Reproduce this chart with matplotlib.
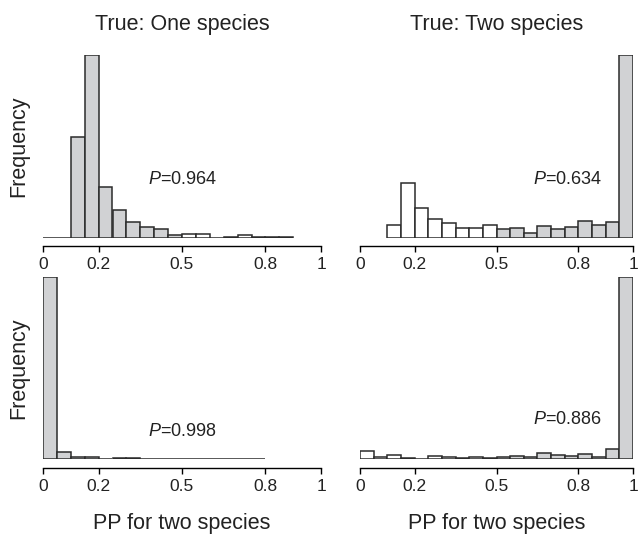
import numpy as np
import matplotlib
matplotlib.use("Agg")
import matplotlib.pyplot as plt

plt.rcParams['font.family'] = ['Liberation Sans', 'DejaVu Sans']
plt.rcParams['mathtext.fontset'] = 'custom'
plt.rcParams['mathtext.rm'] = 'Liberation Sans'
plt.rcParams['mathtext.it'] = 'Liberation Sans:italic'

# lower edges of the 0.05-wide bins of posterior probability
bin_lower = [0.00, 0.05, 0.10, 0.15, 0.20, 0.25, 0.30, 0.35, 0.40, 0.45,
             0.50, 0.55, 0.60, 0.65, 0.70, 0.75, 0.80, 0.85, 0.90, 0.95]

# counts per panel, with the index of the first bin
one_sp_top = [0, 0, 242, 440, 122, 67, 38, 26, 21, 8, 9, 10, 0, 3, 8, 2, 2, 2]
two_sp_top = [29, 121, 66, 42, 34, 22, 23, 29, 21, 23, 11, 26, 21, 25, 37, 29, 35, 406]
one_sp_bot = [920, 37, 10, 10, 4, 5, 5, 3, 1, 3, 1, 0, 0, 0, 0, 1]
two_sp_bot = [32, 11, 17, 7, 1, 15, 9, 7, 11, 4, 9, 15, 9, 24, 17, 15, 23, 11, 39, 724]
start_bin = {"one_top": 0, "two_top": 2, "one_bot": 0, "two_bot": 0}

p_labels = ["0.964", "0.634", "0.998", "0.886"]
titles = ["True: One species", "True: Two species"]
tick_vals = [0, 0.2, 0.5, 0.8, 1]
tick_labels = ["0", "0.2", "0.5", "0.8", "1"]

W, H = 640, 534
fig = plt.figure(figsize=(W / 100, H / 100), dpi=100)

# panel boxes in pixels: left, baseline, width, height
boxes = [(43, 238, 278, 183), (360, 238, 273, 183),
         (43, 459.3, 278, 182), (360, 459.3, 273, 182)]
panels = [(one_sp_top, start_bin["one_top"], "one"),
          (two_sp_top, start_bin["two_top"], "two"),
          (one_sp_bot, start_bin["one_bot"], "one"),
          (two_sp_bot, start_bin["two_bot"], "two")]
p_pos = [(0.378, 0.317), (0.633, 0.317), (0.378, 0.152), (0.633, 0.22)]

gray = "#d1d2d4"
for i, ((counts, s, truth), box) in enumerate(zip(panels, boxes)):
    l, base, w, h = box
    ax = fig.add_axes([l / W, (H - base) / H, w / W, h / H])
    lefts = bin_lower[s:s + len(counts)]
    if truth == "one":
        colors = [gray if x < 0.5 else "white" for x in lefts]
    else:
        colors = [gray if x >= 0.5 else "white" for x in lefts]
    ax.bar(lefts, counts, width=0.05, align="edge", color=colors,
           edgecolor="#2b2b2b", linewidth=1.1)
    ax.set_xlim(0, 1)
    ax.set_ylim(0, max(counts))
    for sp in ["top", "right", "left"]:
        ax.spines[sp].set_visible(False)
    ax.spines["bottom"].set_position(("outward", 6))
    ax.spines["bottom"].set_bounds(0, 1)
    ax.spines["bottom"].set_linewidth(1.0)
    ax.set_yticks([])
    ax.set_xticks(tick_vals)
    ax.set_xticklabels(tick_labels, fontsize=12.5, color="#222222")
    ax.tick_params(axis="x", length=4, width=1.0, pad=4)
    ax.patch.set_visible(False)
    px, py = p_pos[i]
    ax.text(px, py, r"$P$=" + p_labels[i], transform=ax.transAxes,
            ha="left", va="center", fontsize=13, color="#222222")
    if i < 2:
        ax.set_title(titles[i], fontsize=15.5, color="#222222", pad=18)
    else:
        ax.set_xlabel("PP for two species", fontsize=15.5, color="#222222",
                      labelpad=14)
    if i % 2 == 0:
        ax.set_ylabel("Frequency", fontsize=15.5, color="#222222", labelpad=10)

fig.savefig("out.png", dpi=100)
